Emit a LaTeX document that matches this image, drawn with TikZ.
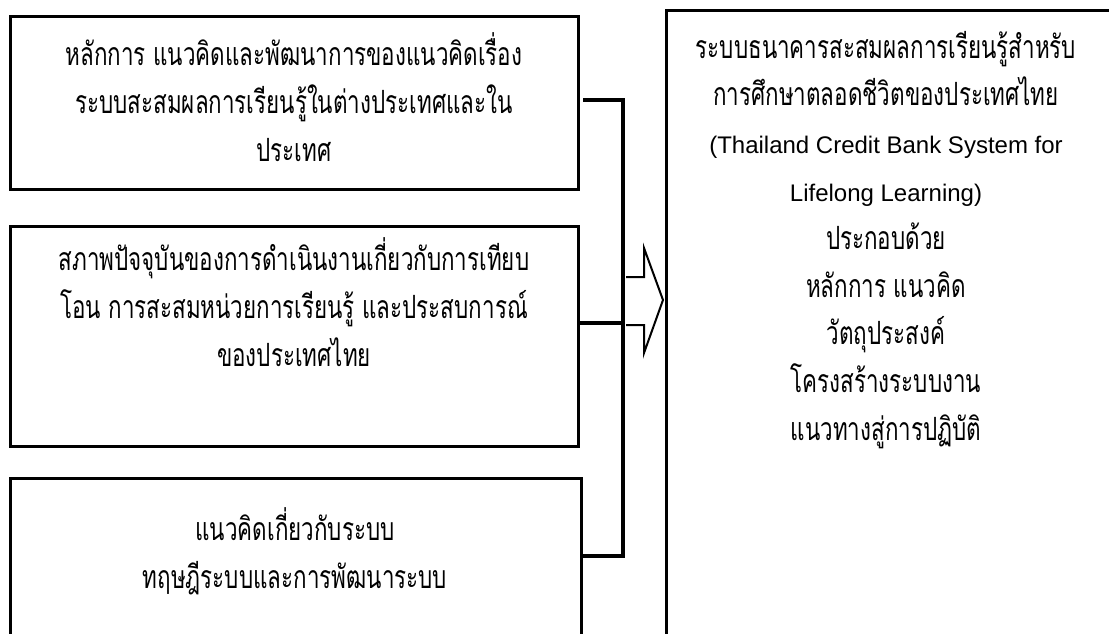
\documentclass[tikz,border=0pt]{standalone}
\usepackage{fontspec}
\newfontfamily\thaifont[Script=Thai,FakeStretch=0.70]{Loma}
\newfontfamily\latinfont{Liberation Sans}
\newcommand\engline{\latinfont\fontsize{24}{47.8}\selectfont}
\begin{document}
\begin{tikzpicture}[x=1pt,y=-1pt,
  boxframe/.style={draw=black, line width=3pt, rectangle, inner sep=0pt, outer sep=0pt, anchor=north west},
  thaitext/.style={font=\thaifont\fontsize{32}{47.8}\selectfont, align=center, inner sep=0pt},
  conn/.style={line width=3.5pt, line join=miter},
  arrowline/.style={line width=2pt, line join=miter}]
\useasboundingbox (0,0) rectangle (1109,634);
\clip (0,0) rectangle (1109,634);
\fill[white] (0,0) rectangle (1109,634);
% boxes
\node[boxframe, minimum width=568pt, minimum height=172pt] (b1) at (10,17) {};
\node[boxframe, minimum width=568pt, minimum height=220pt] (b2) at (10,226) {};
\node[boxframe, minimum width=571pt, minimum height=260pt] (b3) at (10,478) {};
\node[boxframe, minimum width=520pt, minimum height=720pt] (rb) at (666,11) {};
% texts
\node[thaitext] (t1) at (294,97) {หลักการ แนวคิดและพัฒนาการของแนวคิดเรื่อง\\ระบบสะสมผลการเรียนรู้ในต่างประเทศและใน\\ประเทศ};
\node[thaitext] (t2) at (294,302) {สภาพปัจจุบันของการดำเนินงานเกี่ยวกับการเทียบ\\โอน การสะสมหน่วยการเรียนรู้ และประสบการณ์\\ของประเทศไทย};
\node[thaitext] (t3) at (295,551) {แนวคิดเกี่ยวกับระบบ\\ทฤษฎีระบบและการพัฒนาระบบ};
\node[thaitext] (tr) at (886,240) {ระบบธนาคารสะสมผลการเรียนรู้สำหรับ\\การศึกษาตลอดชีวิตของประเทศไทย\\{\engline (Thailand Credit Bank System for}\\{\engline Lifelong Learning)}\\ประกอบด้วย\\หลักการ แนวคิด\\วัตถุประสงค์\\โครงสร้างระบบงาน\\แนวทางสู่การปฏิบัติ};
% connectors
\coordinate (bt) at (623,100);
\coordinate (bb) at (623,556);
\draw[conn] ([xshift=5pt,yshift=3pt]b1.east) -| (bb) -- ([yshift=-78pt]b3.north east);
\draw[conn] ([yshift=13pt]b2.east) -- ++(45,0);
% hollow arrow
\draw[arrowline] (626,277) -- (644,277) -- (644,248) -- (663,300) -- (644,353) -- (644,325) -- (626,325);
\end{tikzpicture}
\end{document}
